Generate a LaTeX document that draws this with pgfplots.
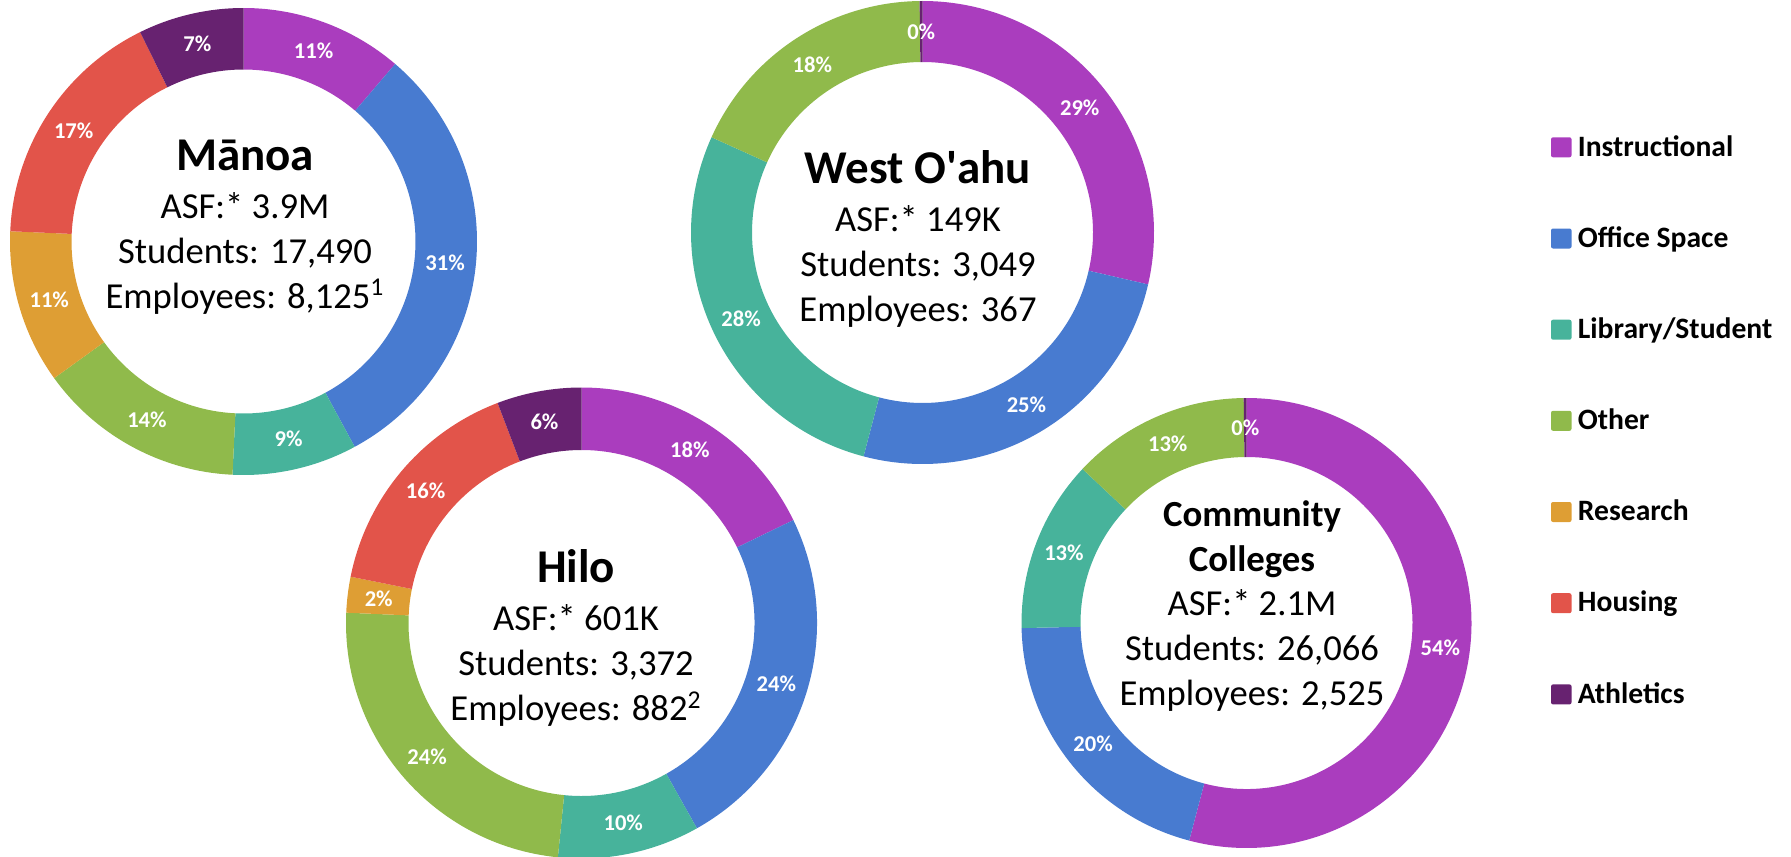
\documentclass[border=0pt]{standalone}
\usepackage{pgfplots}
\pgfplotsset{compat=1.18}
\usepackage{pgfplotstable}
\usepackage{fontspec}
\setmainfont{Carlito}
\definecolor{cInst}{RGB}{170,61,190}
\definecolor{cOff}{RGB}{72,123,208}
\definecolor{cLib}{RGB}{71,179,155}
\definecolor{cOth}{RGB}{144,186,75}
\definecolor{cRes}{RGB}{222,158,52}
\definecolor{cHou}{RGB}{226,84,74}
\definecolor{cAth}{RGB}{103,34,112}

\pgfplotstableread{
val lab col
11.25 11 cInst
30.85 31 cOff
8.65 9 cLib
14.3 14 cOth
10.65 11 cRes
17.0 17 cHou
7.3 7 cAth
}\tabManoa
\pgfplotstableread{
val lab col
28.6 29 cInst
25.5 25 cOff
27.65 28 cLib
18.05 18 cOth
0.2 0 cAth
}\tabWest
\pgfplotstableread{
val lab col
17.8 18 cInst
24.05 24 cOff
9.75 10 cLib
24.1 24 cOth
2.45 2 cRes
16.05 16 cHou
5.8 6 cAth
}\tabHilo
\pgfplotstableread{
val lab col
54.1 54 cInst
20.54 20 cOff
12.36 13 cLib
12.8 13 cOth
0.2 0 cAth
}\tabCC

\newcommand\pctfont{\bfseries\fontsize{11.3pt}{13pt}\selectfont}
\newcommand\titlefont{\bfseries\fontsize{23.5pt}{28pt}\selectfont}
\newcommand\cctitlefont{\bfseries\fontsize{18.4pt}{22pt}\selectfont}
\newcommand\bodyfont{\fontsize{18.3pt}{22pt}\selectfont}
\newcommand\legfont{\bfseries\fontsize{14.8pt}{17pt}\selectfont}

% #1 table, #2 cx, #3 cy (px), #4 outer radius (pt), #5 inner radius (pt)
\newcommand\donut[5]{%
  \pgfplotstablegetrowsof{#1}%
  \pgfmathtruncatemacro\lastrow{\pgfplotsretval-1}%
  \gdef\cumval{0}%
  \pgfmathsetmacro\drad{#4-#5}%
  \pgfmathsetmacro\rmid{(#4+#5)/2}%
  \foreach \i in {0,...,\lastrow}{%
    \pgfplotstablegetelem{\i}{val}\of{#1}\let\myval\pgfplotsretval
    \pgfplotstablegetelem{\i}{col}\of{#1}\let\mycol\pgfplotsretval
    \pgfplotstablegetelem{\i}{lab}\of{#1}\let\mylab\pgfplotsretval
    \pgfmathsetmacro\sa{90-3.6*\cumval}%
    \pgfmathsetmacro\ea{90-3.6*(\cumval+\myval)}%
    \pgfmathsetmacro\ma{(\sa+\ea)/2}%
    \pgfmathsetmacro\newcum{\cumval+\myval}%
    \xdef\cumval{\newcum}%
    \edef\temp{\noexpand\fill[\mycol] (axis cs:#2,#3) ++(\sa:#4pt)
      arc[start angle=\sa, end angle=\ea, radius=#4pt]
      -- ++(\ea:-\drad pt)
      arc[start angle=\ea, end angle=\sa, radius=#5pt] -- cycle;
      \noexpand\path (axis cs:#2,#3) ++(\ma:\rmid pt)
      node[font=\noexpand\pctfont, text=white] {\mylab\noexpand\%};}%
    \temp
  }%
}

% legend entry: #1 colour, #2 square top (px), #3 text
\newcommand\legentry[3]{%
  \edef\temp{\noexpand\fill[#1, rounded corners=1pt] (axis cs:1551,#2) rectangle (axis cs:1571.5,\fpeval{#2+20});
  \noexpand\node[font=\noexpand\legfont, anchor=base west, inner sep=0pt] at (axis cs:1577.5,\fpeval{#2+18.7}) {#3};}%
  \temp}

\begin{document}
\begin{tikzpicture}
\useasboundingbox (0,0) rectangle (895.5pt,428pt);
\begin{axis}[
  at={(0,0)}, anchor=south west,
  scale only axis, width=895.5pt, height=428pt,
  xmin=0, xmax=1791, ymin=0, ymax=856, y dir=reverse,
  hide axis, clip=false]
\donut{\tabManoa}{243.5}{241.5}{116.75}{86}
\donut{\tabWest}{922.5}{232.5}{115.75}{85.25}
\donut{\tabHilo}{581.5}{623}{117.75}{86.5}
\donut{\tabCC}{1246.5}{623}{112.5}{83}

% Manoa
\node[font=\titlefont, anchor=base] at (axis cs:245,170) {Mānoa};
\node[font=\bodyfont, anchor=base] at (axis cs:245,218.3) {ASF:* 3.9M};
\node[font=\bodyfont, anchor=base] at (axis cs:245,263.3) {Students: 17,490};
\node[font=\bodyfont, anchor=base] at (axis cs:245,308.3) {Employees: 8,125\textsuperscript{1}};
% West O'ahu
\node[font=\titlefont, anchor=base] at (axis cs:918,183.3) {West O\textquotesingle ahu};
\node[font=\bodyfont, anchor=base] at (axis cs:918,231.7) {ASF:* 149K};
\node[font=\bodyfont, anchor=base] at (axis cs:918,276.7) {Students: 3,049};
\node[font=\bodyfont, anchor=base] at (axis cs:918,321.7) {Employees: 367};
% Hilo
\node[font=\titlefont, anchor=base] at (axis cs:576,582.7) {Hilo};
\node[font=\bodyfont, anchor=base] at (axis cs:576,630) {ASF:* 601K};
\node[font=\bodyfont, anchor=base] at (axis cs:576,675) {Students: 3,372};
\node[font=\bodyfont, anchor=base] at (axis cs:576,720.7) {Employees: 882\textsuperscript{2}};
% Community Colleges
\node[font=\cctitlefont, anchor=base] at (axis cs:1252,526.7) {Community};
\node[font=\cctitlefont, anchor=base] at (axis cs:1252,571.7) {Colleges};
\node[font=\bodyfont, anchor=base] at (axis cs:1252,615.7) {ASF:* 2.1M};
\node[font=\bodyfont, anchor=base] at (axis cs:1252,660) {Students: 26,066};
\node[font=\bodyfont, anchor=base] at (axis cs:1252,705) {Employees: 2,525};

% legend
\legentry{cInst}{137.3}{Instructional}
\legentry{cOff}{228.5}{Office Space}
\legentry{cLib}{319.7}{Library/Student}
\legentry{cOth}{410.8}{Other}
\legentry{cRes}{502.0}{Research}
\legentry{cHou}{593.2}{Housing}
\legentry{cAth}{684.4}{Athletics}
\end{axis}
\end{tikzpicture}
\end{document}
